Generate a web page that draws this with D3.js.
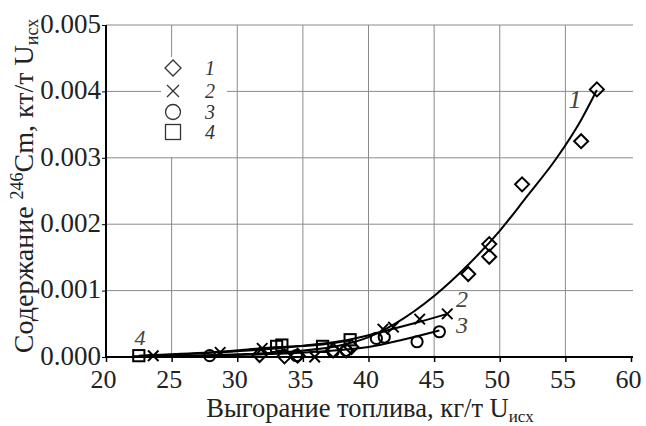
<!DOCTYPE html>
<html><head><meta charset="utf-8">
<script src="https://cdn.jsdelivr.net/npm/d3@7"></script>
<style>
body{margin:0;background:#fff;}
svg{display:block;}
svg text{font-family:"Liberation Serif",serif !important;}
</style></head>
<body>
<svg id="chart" width="646" height="426"></svg>
<script>
// ---- data ----
const xTicks = [20,25,30,35,40,45,50,55,60];
const yTicks = [0.000,0.001,0.002,0.003,0.004,0.005];
const yTickLabels = ["0.000","0.001","0.002","0.003","0.004","0.005"];

const s1x = [31.7,33.6,34.6,37.3,38.3,38.7,47.6,49.2,49.2,51.7,56.2,57.4];
const s1y = [0.00003,0.00001,0.00002,0.0001,0.0001,0.00015,0.00125,0.00151,0.0017,0.0026,0.00325,0.00403];
const s2x = [23.6,28.7,31.9,35.9,41.1,41.9,43.9,46.0];
const s2y = [0.00002,0.00007,0.00013,0.0,0.00042,0.00045,0.00057,0.00065];
const s3x = [27.9,34.5,37.3,38.3,40.6,41.2,43.7,45.4];
const s3y = [0.00002,0.00002,0.00008,0.0001,0.00028,0.0003,0.00023,0.00038];
const s4x = [22.5,33.0,33.4,36.5,38.6];
const s4y = [0.00002,0.00016,0.00018,0.00016,0.00026];

// fitted curves
const c1x = [22,26,30,34,38,40,42,45,47.6,50,52,54.35,56.2,57.4];
const c1y = [0.00001,0.00002,0.00004,0.00008,0.00018,0.0003,0.0005,0.00092,0.00139,0.0019,0.0024,0.003,0.00357,0.00402];
const c2x = [23.6,28.7,31.7,35,38.5,41,43.9,46];
const c2y = [0.00002,0.00007,0.00011,0.00017,0.00026,0.00038,0.00053,0.00065];
const c3x = [27.9,32,36,40,42.6,45.4];
const c3y = [0.00002,0.00004,0.00008,0.00015,0.00026,0.0004];
const c4x = [22.5,28,33.2,36.5,38.6];
const c4y = [0.00002,0.00007,0.00015,0.00019,0.00025];

const legendLabels = ["1","2","3","4"];
const curveLabels = ["1","2","3","4"];

// ---- drawing ----
const FONT = "Liberation Serif";
const svg = d3.select("#chart");
const x = d3.scaleLinear().domain([20,60]).range([106,631]);
const y = d3.scaleLinear().domain([0,0.005]).range([357,25]);
const zip = (a,b)=>a.map((v,i)=>[v,b[i]]);

// grid
const grid = svg.append("g").attr("stroke","#8a8a8a").attr("stroke-width",1);
grid.selectAll("line.v").data(xTicks.filter(t=>t>20 && t<60)).enter().append("line")
  .attr("x1",d=>x(d)).attr("x2",d=>x(d)).attr("y1",y(0.005)).attr("y2",y(0));
grid.selectAll("line.h").data(yTicks.filter(t=>t>0)).enter().append("line")
  .attr("x1",x(20)).attr("x2",x(60)+2).attr("y1",d=>y(d)).attr("y2",d=>y(d));

// legend background (covers grid)
svg.append("rect").attr("x",161).attr("y",57).attr("width",66).attr("height",100).attr("fill","#fff");

// axes
const xAxis = d3.axisBottom(x).tickValues(xTicks).tickSize(5).tickSizeOuter(0).tickFormat(d3.format("d"));
const gx = svg.append("g").attr("transform",`translate(0,${y(0)})`).call(xAxis).attr("font-family",FONT);
gx.select(".domain").attr("stroke","#000").attr("stroke-width",2).attr("d",`M${x(20)-1},0H${x(60)+2}`);
gx.selectAll(".tick line").attr("stroke","#000").attr("stroke-width",1.5);
gx.selectAll(".tick text").attr("font-size",26).attr("fill","#222").attr("dy",null).attr("y",31).attr("x",-3)
  .style("font-family",FONT);

const yAxis = d3.axisLeft(y).tickValues(yTicks).tickSize(4).tickSizeOuter(0).tickFormat((d,i)=>yTickLabels[i]);
const gy = svg.append("g").attr("transform",`translate(${x(20)},0)`).call(yAxis).attr("font-family",FONT);
gy.select(".domain").attr("stroke","#000").attr("stroke-width",2).attr("d",`M0,${y(0.005)}V${y(0)+1}`);
gy.selectAll(".tick line").attr("stroke","#000").attr("stroke-width",1);
gy.selectAll(".tick text").attr("font-size",27).attr("fill","#222").attr("dy",null).attr("y",1).attr("x",-5)
  .attr("dominant-baseline","middle").style("font-family",FONT);

// curves
const line = d3.line().x(d=>x(d[0])).y(d=>y(d[1])).curve(d3.curveMonotoneX);
[[c1x,c1y],[c2x,c2y],[c3x,c3y],[c4x,c4y]].forEach(([cx,cy])=>{
  svg.append("path").datum(zip(cx,cy)).attr("d",line).attr("fill","none").attr("stroke","#000").attr("stroke-width",2);
});

// markers
function marker(g, type, size){
  const h=size/2;
  if(type==="diamond"){
    g.append("path").attr("d",`M0,${-h}L${h},0L0,${h}L${-h},0Z`).attr("fill","none").attr("stroke","#000").attr("stroke-width",2);
  } else if(type==="cross"){
    const k=h*0.75;
    g.append("path").attr("d",`M${-k},${-k}L${k},${k}M${-k},${k}L${k},${-k}`).attr("stroke","#000").attr("stroke-width",2);
  } else if(type==="circle"){
    g.append("circle").attr("r",h*0.8).attr("fill","none").attr("stroke","#000").attr("stroke-width",2);
  } else {
    const s=h*0.8;
    g.append("rect").attr("x",-s).attr("y",-s).attr("width",2*s).attr("height",2*s).attr("fill","none").attr("stroke","#000").attr("stroke-width",2);
  }
}
const series = [[s1x,s1y,"diamond"],[s2x,s2y,"cross"],[s3x,s3y,"circle"],[s4x,s4y,"square"]];
series.forEach(([sx,sy,t])=>{
  const g = svg.append("g");
  g.selectAll("g").data(zip(sx,sy)).enter().append("g")
    .attr("transform",d=>`translate(${x(d[0])},${y(d[1])})`)
    .each(function(){ marker(d3.select(this), t, 14); });
});

// legend
const legTypes = ["diamond","cross","circle","square"];
const legY = [68,91,112,132];
legTypes.forEach((t,i)=>{
  const g = svg.append("g").attr("transform",`translate(173,${legY[i]})`);
  if(t==="diamond"){
    g.append("path").attr("d","M0,-8L8,0L0,8L-8,0Z").attr("fill","none").attr("stroke","#333").attr("stroke-width",1.3);
  } else if(t==="cross"){
    g.append("path").attr("d","M-6,-6L6,6M-6,6L6,-6").attr("stroke","#333").attr("stroke-width",1.3);
  } else if(t==="circle"){
    g.append("circle").attr("r",7.5).attr("fill","none").attr("stroke","#333").attr("stroke-width",1.3);
  } else {
    g.append("rect").attr("x",-7.5).attr("y",-7.5).attr("width",15).attr("height",15).attr("fill","none").attr("stroke","#333").attr("stroke-width",1.3);
  }
  svg.append("text").attr("x",210).attr("y",legY[i]+7).attr("text-anchor","middle")
    .attr("font-size",20).attr("font-style","italic").attr("fill","#333").text(legendLabels[i]);
});

// curve labels
const clPos = [[575,108,26],[462,307,24],[462,333,24],[140,345,22]];
curveLabels.forEach((l,i)=>{
  svg.append("text").attr("x",clPos[i][0]).attr("y",clPos[i][1]).attr("text-anchor","middle")
    .attr("font-size",clPos[i][2]).attr("font-style","italic").attr("fill","#444").text(l);
});

// axis titles
const xt = svg.append("text").attr("x",370).attr("y",417).attr("text-anchor","middle").attr("font-size",26.5).attr("fill","#222");
xt.append("tspan").text("Выгорание топлива, кг/т U");
xt.append("tspan").attr("font-size",17).attr("dy",5).text("исх");

const yt = svg.append("text").attr("transform","translate(33,186) rotate(-90)").attr("text-anchor","middle").attr("font-size",28).attr("fill","#222");
yt.append("tspan").text("Содержание ");
yt.append("tspan").attr("font-size",18).attr("dy",-10).text("246");
yt.append("tspan").attr("dy",10).text("Cm, кт/т U");
yt.append("tspan").attr("font-size",18).attr("dy",5).text("исх");
</script>
</body></html>
